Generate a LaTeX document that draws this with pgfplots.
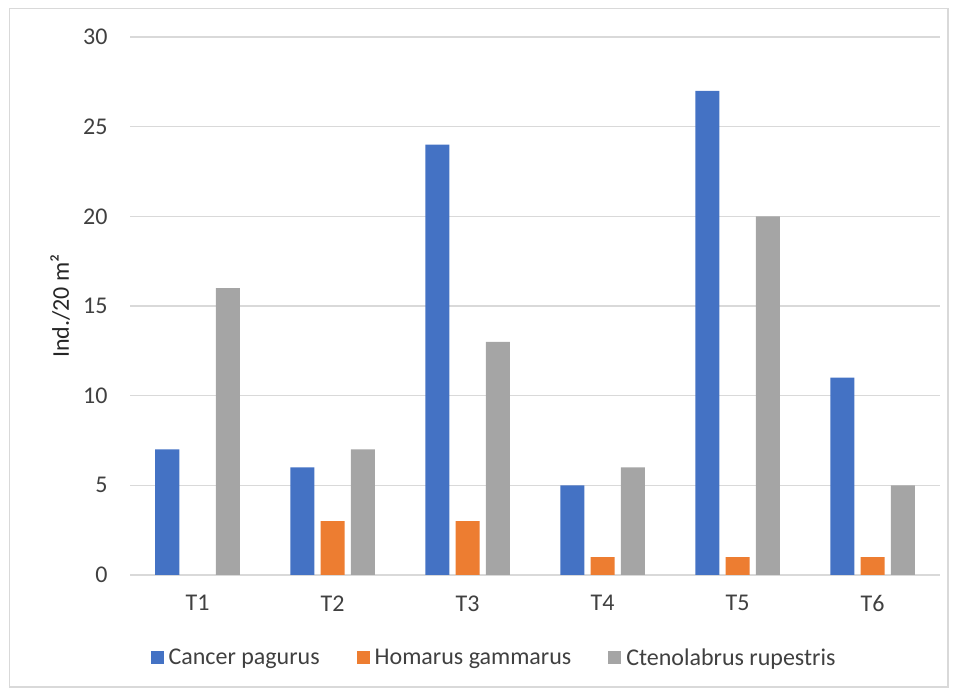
\documentclass[border=0pt]{standalone}
\usepackage{pgfplots}
\pgfplotsset{compat=1.18}
\usepackage{fontspec}
\setmainfont{Carlito}

\definecolor{cpBlue}{RGB}{68,114,196}
\definecolor{hgOrange}{RGB}{237,125,49}
\definecolor{crGray}{RGB}{165,165,165}
\definecolor{gridGray}{RGB}{217,217,217}
\definecolor{labelGray}{RGB}{64,64,64}

\begin{document}
\begin{tikzpicture}[x=1pt,y=1pt]
\useasboundingbox (0,0) rectangle (954,693);
% chart frame
\draw[gridGray, line width=1.3pt] (9.5,6) rectangle (948,684.5);
\begin{axis}[
  at={(130pt,118pt)}, anchor=south west,
  scale only axis, width=810pt, height=538pt,
  ybar=6.25pt, bar width=24pt,
  xmin=-0.5, xmax=5.5, ymin=0, ymax=30,
  xtick={0,1,2,3,4,5},
  xticklabels={T1,T2,T3,T4,T5,T6},
  ytick={0,5,10,15,20,25,30},
  ymajorgrids,
  grid style={gridGray, line width=1.3pt},
  axis x line*=bottom, axis y line*=left,
  x axis line style={gridGray, line width=1.3pt},
  y axis line style={draw=none},
  major tick length=0pt,
  /pgf/number format/assume math mode=true,
  ticklabel style={font=\fontsize{24}{28}\selectfont, text=labelGray},
  yticklabel style={xshift=-19pt},
  xticklabel style={yshift=-17pt},
  ylabel={Ind./20 m²},
  every axis y label/.style={at={(axis description cs:-0.0864,0.5)}, rotate=90, anchor=center,
    font=\fontsize{24}{28}\selectfont, text=black!85},
  legend columns=3,
  legend image code/.code={\fill[#1] (0pt,-6.5pt) rectangle (13pt,6.5pt);},
  legend style={draw=none, at={(axis description cs:0.45,-0.154)}, anchor=center,
    font=\fontsize{24}{28}\selectfont, text=labelGray,
    inner sep=0pt, nodes={inner sep=3pt},
    /tikz/every odd column/.append style={column sep=2pt},
    /tikz/every even column/.append style={column sep=34pt}},
]
% Cancer pagurus
\addplot[fill=cpBlue, draw=none] coordinates {(0,7) (1,6) (2,24) (3,5) (4,27) (5,11)};
% Homarus gammarus (none recorded at T1)
\addplot[fill=hgOrange, draw=none] coordinates {(1,3) (2,3) (3,1) (4,1) (5,1)};
% Ctenolabrus rupestris
\addplot[fill=crGray, draw=none] coordinates {(0,16) (1,7) (2,13) (3,6) (4,20) (5,5)};
\legend{Cancer pagurus, Homarus gammarus, Ctenolabrus rupestris}
\end{axis}
\end{tikzpicture}
\end{document}
